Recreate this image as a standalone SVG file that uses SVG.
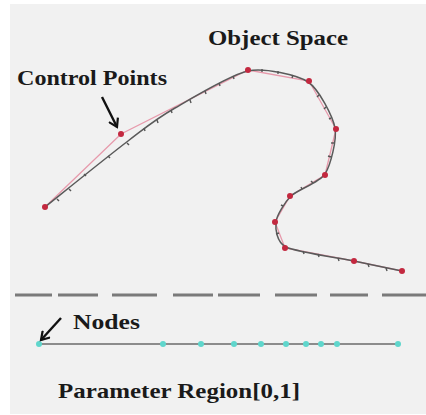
<svg xmlns="http://www.w3.org/2000/svg" width="426" height="415" viewBox="0 0 426 415">
<style>
  .lbl { font-family: "Liberation Serif", "Times New Roman", serif; font-weight: bold; font-size: 21px; fill: #1a1a1a; }
  .cp { fill: #c3283f; }
  .node { fill: #5fd6cc; }
  .tick { stroke: #555; stroke-width: 1.4; }
  .dash { stroke: #7a7a7a; stroke-width: 3; }
</style>
<defs>
  <marker id="arr" markerWidth="12" markerHeight="12" refX="9" refY="6" orient="auto" markerUnits="userSpaceOnUse">
    <path d="M1,1 L9,6 L1,11" fill="none" stroke="#111" stroke-width="2.2"/>
  </marker>
</defs>
<rect x="0" y="0" width="426" height="415" fill="#ffffff"/>
<rect x="10" y="4" width="416" height="410" fill="#f1f1f1"/>

<g id="control-polygon">
  <polyline points="45,207 121,134 248,70 309,81 336,129 325,175 290,196 275,222 285,248 354,261 402,271" fill="none" stroke="#e79aac" stroke-width="1.3"/>
</g>
<g id="curve">
  <path d="M45,207 C58.8,196 106.3,157.5 128,141 C149.7,124.5 155,119.5 175,108 C195,96.3 231.4,74.3 248,71 C264.6,67.7 297.1,74.9 308,82 C318.9,89.1 332.9,116.5 335,128 C337.1,139.5 330.5,165.5 325,174 C319.5,182.5 297.1,190 291,196 C284.9,202 276.6,215.6 276,222 C275.4,228.4 276.2,242.1 286,247 C295.8,251.9 339.5,258 354,261 C368.5,264 396,269.75 402,271" fill="none" stroke="#5a5a5a" stroke-width="1.5"/>
  <g id="data-ticks">
    <line class="tick" x1="57" y1="199" x2="59" y2="201"/>
    <line class="tick" x1="69" y1="189" x2="71" y2="191"/>
    <line class="tick" x1="84" y1="174" x2="86" y2="176"/>
    <line class="tick" x1="108" y1="156" x2="110" y2="158"/>
    <line class="tick" x1="127" y1="143" x2="129" y2="145"/>
    <line class="tick" x1="144" y1="128" x2="145" y2="131"/>
    <line class="tick" x1="157" y1="120" x2="158" y2="123"/>
    <line class="tick" x1="171" y1="110" x2="172" y2="113"/>
    <line class="tick" x1="190" y1="100" x2="191" y2="103"/>
    <line class="tick" x1="205" y1="91" x2="206" y2="94"/>
    <line class="tick" x1="219" y1="83" x2="220" y2="86"/>
    <line class="tick" x1="233" y1="76" x2="234" y2="79"/>
    <line class="tick" x1="262" y1="69" x2="262" y2="72"/>
    <line class="tick" x1="278" y1="71" x2="278" y2="74"/>
    <line class="tick" x1="293" y1="75" x2="292" y2="78"/>
    <line class="tick" x1="319" y1="95" x2="317" y2="97"/>
    <line class="tick" x1="326" y1="107" x2="324" y2="109"/>
    <line class="tick" x1="331" y1="118" x2="329" y2="119"/>
    <line class="tick" x1="334" y1="143" x2="331" y2="143"/>
    <line class="tick" x1="331" y1="157" x2="328" y2="156"/>
    <line class="tick" x1="313" y1="183" x2="311" y2="181"/>
    <line class="tick" x1="302" y1="189" x2="301" y2="187"/>
    <line class="tick" x1="283" y1="206" x2="281" y2="205"/>
    <line class="tick" x1="276" y1="234" x2="279" y2="233"/>
    <line class="tick" x1="303" y1="251" x2="304" y2="254"/>
    <line class="tick" x1="318" y1="254" x2="319" y2="257"/>
    <line class="tick" x1="338" y1="258" x2="339" y2="261"/>
    <line class="tick" x1="368" y1="264" x2="369" y2="267"/>
    <line class="tick" x1="386" y1="268" x2="387" y2="271"/>
  </g>
</g>
<g id="control-points">
  <circle class="cp" cx="45" cy="207" r="3"/>
  <circle class="cp" cx="121" cy="134" r="3"/>
  <circle class="cp" cx="248" cy="70" r="3"/>
  <circle class="cp" cx="309" cy="81" r="3"/>
  <circle class="cp" cx="336" cy="129" r="3"/>
  <circle class="cp" cx="325" cy="175" r="3"/>
  <circle class="cp" cx="290" cy="196" r="3"/>
  <circle class="cp" cx="275" cy="222" r="3"/>
  <circle class="cp" cx="285" cy="248" r="3"/>
  <circle class="cp" cx="354" cy="261" r="3"/>
  <circle class="cp" cx="402" cy="271" r="3"/>
</g>

<g id="separator">
  <line class="dash" x1="15" y1="295" x2="52" y2="295"/>
  <line class="dash" x1="58" y1="295" x2="98" y2="295"/>
  <line class="dash" x1="112" y1="295" x2="157" y2="295"/>
  <line class="dash" x1="173" y1="295" x2="213" y2="295"/>
  <line class="dash" x1="218" y1="295" x2="260" y2="295"/>
  <line class="dash" x1="275" y1="295" x2="317" y2="295"/>
  <line class="dash" x1="330" y1="295" x2="368" y2="295"/>
  <line class="dash" x1="382" y1="295" x2="426" y2="295"/>
</g>

<g id="parameter-line">
  <line x1="39" y1="344" x2="398" y2="344" stroke="#6a6a6a" stroke-width="1.6"/>
  <circle class="node" cx="39" cy="344" r="3"/>
  <circle class="node" cx="163" cy="344" r="3"/>
  <circle class="node" cx="201" cy="344" r="3"/>
  <circle class="node" cx="234" cy="344" r="3"/>
  <circle class="node" cx="261" cy="344" r="3"/>
  <circle class="node" cx="286" cy="344" r="3"/>
  <circle class="node" cx="306" cy="344" r="3"/>
  <circle class="node" cx="321" cy="344" r="3"/>
  <circle class="node" cx="337" cy="344" r="3"/>
  <circle class="node" cx="398" cy="344" r="3"/>
</g>

<g id="connectors">
  <line x1="102" y1="97" x2="117" y2="127" stroke="#111" stroke-width="2.4" marker-end="url(#arr)"/>
  <line x1="61" y1="318" x2="41" y2="340" stroke="#111" stroke-width="2.4" marker-end="url(#arr)"/>
</g>

<g id="labels">
  <text id="label-object-space" class="lbl" x="208" y="45" textLength="140" lengthAdjust="spacingAndGlyphs">Object Space</text>
  <text id="label-control-points" class="lbl" x="17" y="85" textLength="150" lengthAdjust="spacingAndGlyphs">Control Points</text>
  <text id="label-nodes" class="lbl" x="73" y="329" textLength="67" lengthAdjust="spacingAndGlyphs">Nodes</text>
  <text id="label-parameter-region" class="lbl" x="58" y="398" textLength="242" lengthAdjust="spacingAndGlyphs">Parameter Region[0,1]</text>
</g>
</svg>
